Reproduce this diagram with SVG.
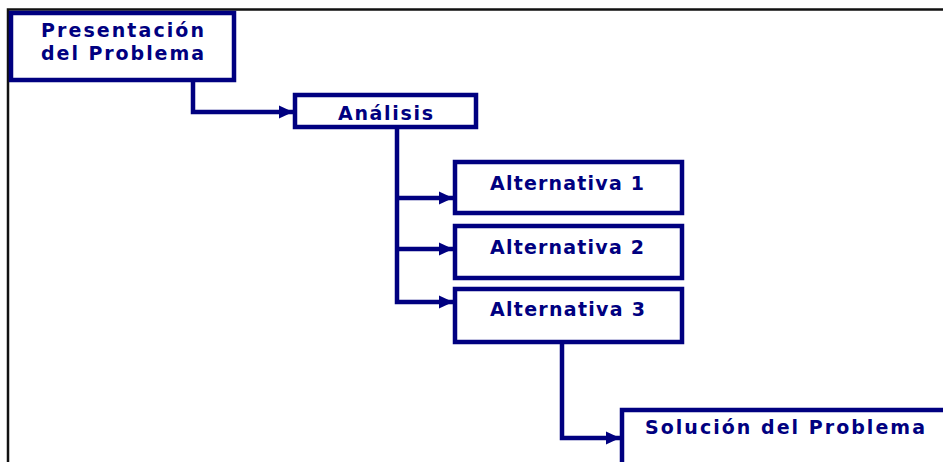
<svg xmlns="http://www.w3.org/2000/svg" width="943" height="462" viewBox="0 0 943 462">
<defs>
<style>
.box{fill:#fff;stroke:#000080;stroke-width:4.5}
.lbl{font-family:"DejaVu Sans","Liberation Sans",Arial,sans-serif;font-weight:bold;font-size:19px;fill:#000080}
.con{fill:none;stroke:#000080;stroke-width:4.5;stroke-linejoin:miter}
</style>
<marker id="arr" markerUnits="userSpaceOnUse" markerWidth="16" markerHeight="14" refX="14" refY="7" orient="auto">
<path d="M0,0.5 L14,7 L0,13.5 Z" fill="#000080"/>
</marker>
</defs>
<rect width="943" height="462" fill="#fff"/>
<path d="M8,462 V9.5 H943" fill="none" stroke="#111" stroke-width="2.5"/>
<g id="connectors">
<path class="con" d="M193,81 V112 H293" marker-end="url(#arr)"/>
<path class="con" d="M397,127 V302 H453" marker-end="url(#arr)"/>
<path class="con" d="M397,198 H453" marker-end="url(#arr)"/>
<path class="con" d="M397,249 H453" marker-end="url(#arr)"/>
<path class="con" d="M562,342 V438 H620" marker-end="url(#arr)"/>
</g>
<g id="presentacion">
<rect class="box" x="11" y="13" width="223" height="67"/>
<text class="lbl" x="41" y="37" textLength="163" lengthAdjust="spacing">Presentación</text>
<text class="lbl" x="41" y="60" textLength="163" lengthAdjust="spacing">del Problema</text>
</g>
<g id="analisis">
<rect class="box" x="295" y="95" width="181" height="32"/>
<text class="lbl" x="338" y="120" textLength="95" lengthAdjust="spacing">Análisis</text>
</g>
<g id="alt1">
<rect class="box" x="455" y="162" width="227" height="51"/>
<text class="lbl" x="490" y="190" textLength="154" lengthAdjust="spacing">Alternativa 1</text>
</g>
<g id="alt2">
<rect class="box" x="455" y="226" width="227" height="52"/>
<text class="lbl" x="490" y="254" textLength="154" lengthAdjust="spacing">Alternativa 2</text>
</g>
<g id="alt3">
<rect class="box" x="455" y="289" width="227" height="53"/>
<text class="lbl" x="490" y="316" textLength="155" lengthAdjust="spacing">Alternativa 3</text>
</g>
<g id="solucion">
<rect class="box" x="622" y="410" width="340" height="70"/>
<text class="lbl" x="645" y="434" textLength="280" lengthAdjust="spacing">Solución del Problema</text>
</g>
</svg>
